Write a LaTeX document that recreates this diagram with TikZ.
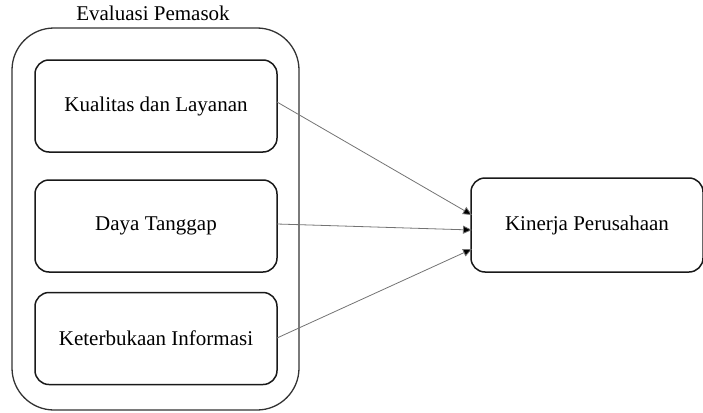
\documentclass[tikz,border=0pt]{standalone}
\usepackage{fontspec}
\setmainfont{Liberation Serif}
\usetikzlibrary{arrows.meta}
\begin{document}
\begin{tikzpicture}[x=1pt,y=-1pt,
  inbox/.style={draw=black!90, line width=1.5pt, rounded corners=14pt, minimum width=242pt, minimum height=92pt, font=\fontsize{21}{24}\selectfont, inner sep=0pt},
  outbox/.style={draw=black!80, line width=1.3pt, rounded corners=42pt},
  conn/.style={draw=black!55, line width=0.8pt, -{Triangle[length=9pt,width=8pt,fill=black]}}]
\useasboundingbox (0,0) rectangle (703,412);
\node[outbox, minimum width=287pt, minimum height=382pt, inner sep=0pt] (outer) at (155.5,219) {};
\node[font=\fontsize{21}{24}\selectfont, anchor=base] (title) at (153,21) {Evaluasi Pemasok};
\node[inbox] (b1) at (156,106) {Kualitas dan Layanan};
\node[inbox] (b2) at (156,226) {Daya Tanggap};
\node[inbox] (b3) at (156,338.5) {Keterbukaan Informasi};
\node[inbox, minimum width=232pt, minimum height=94pt] (k) at (587,225) {Kinerja Perusahaan};
\coordinate (s1) at (277,102);
\coordinate (s2) at (277,224);
\coordinate (s3) at (277,338);
\coordinate (t1) at (472,215);
\coordinate (t2) at (472,230);
\coordinate (t3) at (472,249);
\draw[conn] (s1) -- (t1);
\draw[conn] (s2) -- (t2);
\draw[conn] (s3) -- (t3);
\end{tikzpicture}
\end{document}
